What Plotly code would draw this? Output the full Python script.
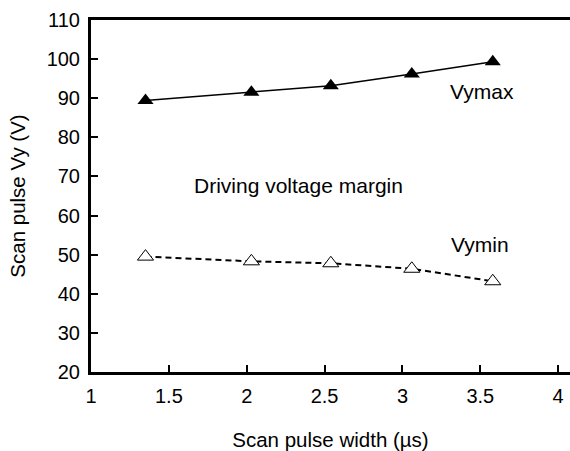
import plotly.graph_objects as go

pulse_width = [1.35, 2.03, 2.54, 3.06, 3.58]
vymax = [89.4, 91.5, 93.2, 96.2, 99.3]
vymin = [49.5, 48.3, 47.8, 46.4, 43.2]
x_ticks = [1, 1.5, 2, 2.5, 3, 3.5, 4]
x_tick_labels = ["1", "1.5", "2", "2.5", "3", "3.5", "4"]
y_ticks = [20, 30, 40, 50, 60, 70, 80, 90, 100, 110]

FONT = "Liberation Sans, Arial, sans-serif"

fig = go.Figure()
fig.add_trace(go.Scatter(
    x=pulse_width, y=vymax, mode="lines+markers", name="Vymax",
    line=dict(color="black", width=1.5),
    marker=dict(symbol="triangle-up", size=14, color="black"),
))
fig.add_trace(go.Scatter(
    x=pulse_width, y=vymin, mode="lines+markers", name="Vymin",
    line=dict(color="black", width=2, dash="6px,4px"),
    marker=dict(symbol="triangle-up", size=14, color="white",
                line=dict(color="black", width=1)),
))

fig.add_annotation(x=3.51, y=91.6, text="Vymax", showarrow=False,
                   font=dict(size=21, color="black", family=FONT))
fig.add_annotation(x=3.50, y=52.5, text="Vymin", showarrow=False,
                   font=dict(size=21, color="black", family=FONT))
fig.add_annotation(x=2.33, y=67.7, text="Driving voltage margin", showarrow=False,
                   font=dict(size=21, color="black", family=FONT))

fig.update_layout(
    width=570, height=451,
    margin=dict(l=91, r=0, t=20, b=79),
    paper_bgcolor="white", plot_bgcolor="white",
    showlegend=False,
    font=dict(family=FONT, size=20, color="black"),
    xaxis=dict(
        range=[1, 4.076], tickvals=x_ticks, ticktext=x_tick_labels,
        ticks="inside", ticklen=7, tickwidth=1.5, tickcolor="black",
        showline=True, linecolor="black", linewidth=3, mirror=True,
        showgrid=False, zeroline=False, automargin=False,
        tickfont=dict(size=20, family=FONT),
        ticklabelstandoff=4,
        title=dict(text="Scan pulse width (µs)", font=dict(size=20.5, family=FONT),
                   standoff=28),
    ),
    yaxis=dict(
        range=[20, 110], tickvals=y_ticks,
        ticks="inside", ticklen=7, tickwidth=1.5, tickcolor="black",
        showline=True, linecolor="black", linewidth=3, mirror=False,
        showgrid=False, zeroline=False, automargin=False,
        tickfont=dict(size=20, family=FONT),
        ticklabelstandoff=4,
        title=dict(text="Scan pulse Vy (V)", font=dict(size=20.5, family=FONT),
                   standoff=16),
    ),
)

fig.write_html("out.html", config={"displayModeBar": False},
               post_script="document.body.style.margin='0';document.body.style.overflow='hidden';")
